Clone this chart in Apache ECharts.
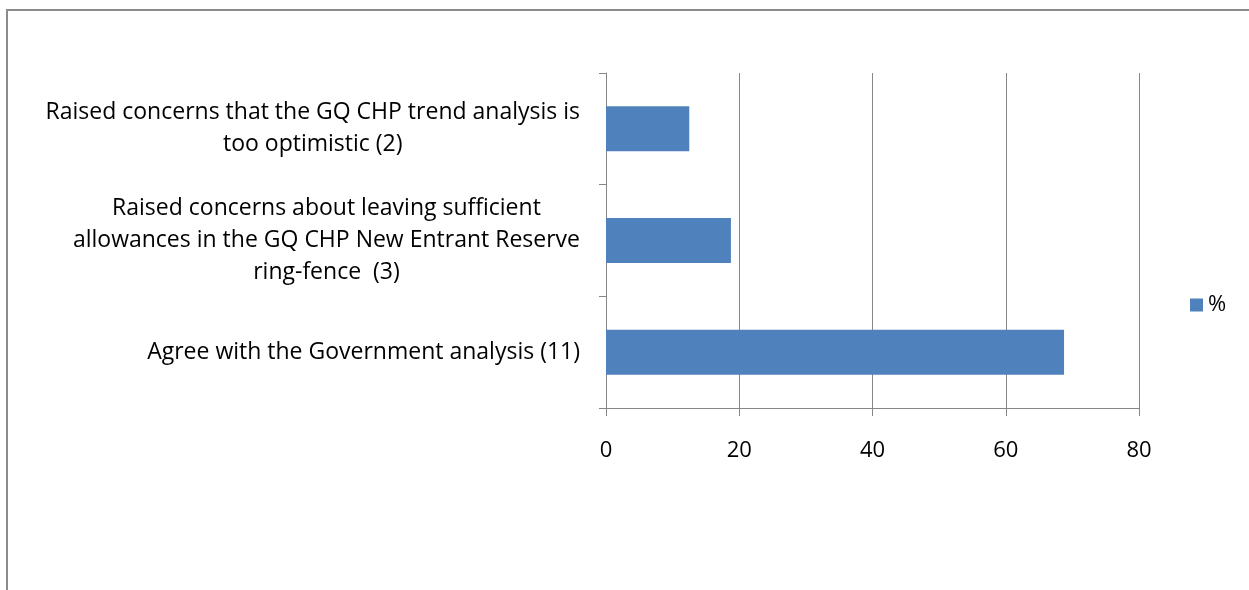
<!DOCTYPE html>
<html>
<head>
<meta charset="utf-8">
<script src="https://cdn.jsdelivr.net/npm/echarts@6/dist/echarts.min.js"></script>
<style>
html,body{margin:0;padding:0;background:#fff;overflow:hidden;}
#frame{position:absolute;left:6px;top:9px;width:1400px;height:800px;border-left:2px solid #8c8c8c;border-top:2px solid #8c8c8c;box-sizing:border-box;}
#chart{position:absolute;left:0;top:0;width:1249px;height:590px;}
</style>
</head>
<body>
<div id="frame"></div>
<div id="chart"></div>
<script>
var categories = [
  "Raised concerns that the GQ CHP trend analysis is\ntoo optimistic (2)",
  "Raised concerns about leaving sufficient\nallowances in the GQ CHP New Entrant Reserve\nring-fence  (3)",
  "Agree with the Government analysis (11)"
];
var seriesName = "%";
var values = [12.5, 18.75, 68.75];
var xTicks = { min: 0, max: 80, interval: 20 };

var chart = echarts.init(document.getElementById('chart'), null, { renderer: 'canvas' });
var font = 'Open Sans';
chart.setOption({
  animation: false,
  backgroundColor: 'transparent',
  grid: { left: 606, right: 110, top: 73, bottom: 182, containLabel: false },
  legend: {
    data: [seriesName],
    left: 1185, top: 289,
    icon: 'rect', itemWidth: 13, itemHeight: 13, itemGap: 8,
    textStyle: { fontFamily: font, fontSize: 22, color: '#000' }
  },
  xAxis: {
    type: 'value', min: xTicks.min, max: xTicks.max, interval: xTicks.interval,
    axisLine: { show: true, lineStyle: { color: '#868686', width: 1 } },
    axisTick: { show: true, length: 8, lineStyle: { color: '#868686' } },
    splitLine: { show: true, lineStyle: { color: '#878787', width: 1 } },
    axisLabel: { margin: 32, fontFamily: font, fontSize: 22, color: '#000' }
  },
  yAxis: {
    type: 'category', inverse: true, data: categories,
    axisLine: { show: true, lineStyle: { color: '#868686', width: 1 } },
    axisTick: { show: true, length: 7, inside: false, lineStyle: { color: '#868686' } },
    axisLabel: {
      margin: 26,
      formatter: function (v) { return '{c|' + v + '}'; },
      rich: { c: { align: 'center', fontFamily: font, fontSize: 23, lineHeight: 32, color: '#000' } }
    }
  },
  series: [{
    name: seriesName, type: 'bar', data: values, barWidth: 45,
    itemStyle: { color: '#4f81bd' }
  }]
});
</script>
</body>
</html>
